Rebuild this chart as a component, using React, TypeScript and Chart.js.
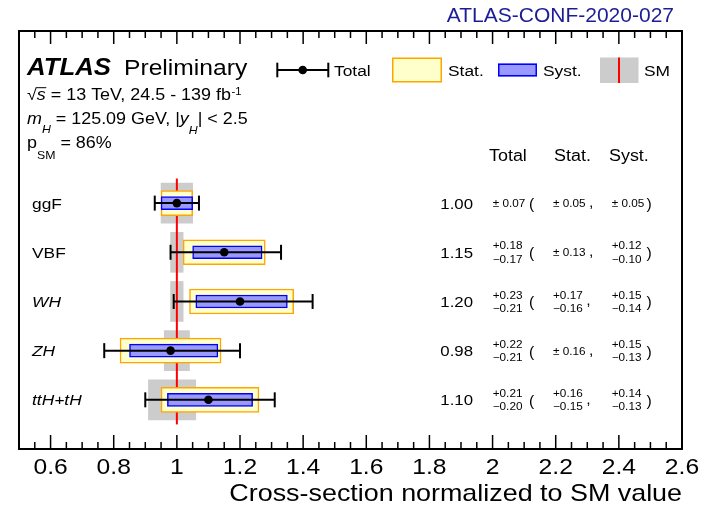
import React, { useEffect, useRef } from "react";
import { Chart, registerables } from "chart.js";

Chart.register(...registerables);

// ---------------- data ----------------
const CATEGORIES = ["ggF", "VBF", "WH", "ZH", "ttH+tH"];
const ITALIC_LABELS = ["WH", "ZH", "ttH+tH"];
const ROW_POS = [5, 4, 3, 2, 1];
const MU = [1.0, 1.15, 1.2, 0.98, 1.1];
const TOT_UP = [0.07, 0.18, 0.23, 0.22, 0.21];
const TOT_DN = [0.07, 0.17, 0.21, 0.21, 0.2];
const STAT_UP = [0.05, 0.13, 0.17, 0.16, 0.16];
const STAT_DN = [0.05, 0.13, 0.16, 0.16, 0.15];
const SYST_UP = [0.05, 0.12, 0.15, 0.15, 0.14];
const SYST_DN = [0.05, 0.1, 0.14, 0.13, 0.13];
const SM_UP = [0.05, 0.02, 0.02, 0.04, 0.06];
const SM_DN = [0.05, 0.02, 0.02, 0.04, 0.09];
const SM_VALUE = 1;
const X_MIN = 0.5;
const X_MAX = 2.6;
const TICK_LABELS = [0.6, 0.8, 1, 1.2, 1.4, 1.6, 1.8, 2, 2.2, 2.4, 2.6];
const MINOR_STEP = 0.05;

// ---------------- styling helpers ----------------
const FAMILY = '"Liberation Sans", Arial, Helvetica, sans-serif';
const SX = 1.12;
const f = (size: number, style = "") => `${style} ${size}px ${FAMILY}`.trim();

function txt(ctx: CanvasRenderingContext2D, s: string, x: number, y: number, font: string, align: CanvasTextAlign = "left", sx = SX, color = "#000") {
  ctx.save();
  ctx.font = font;
  ctx.fillStyle = color;
  ctx.textAlign = align;
  ctx.textBaseline = "alphabetic";
  ctx.translate(x, y);
  ctx.scale(sx, 1);
  ctx.fillText(s, 0, 0);
  ctx.restore();
}
function tw(ctx: CanvasRenderingContext2D, s: string, font: string, sx = SX) {
  ctx.save();
  ctx.font = font;
  const m = ctx.measureText(s).width * sx;
  ctx.restore();
  return m;
}
function runs(ctx: CanvasRenderingContext2D, x: number, y: number, parts: [string, string, number][]) {
  let cx = x;
  for (const [t, font, dy] of parts) {
    txt(ctx, t, cx, y + dy, font);
    cx += tw(ctx, t, font);
  }
  return cx;
}
function line(ctx: CanvasRenderingContext2D, x1: number, y1: number, x2: number, y2: number, color = "#000", lw = 2) {
  ctx.save();
  ctx.strokeStyle = color;
  ctx.lineWidth = lw;
  ctx.beginPath();
  ctx.moveTo(x1, y1);
  ctx.lineTo(x2, y2);
  ctx.stroke();
  ctx.restore();
}
function fmtUnc(up: number, dn: number) {
  return up === dn ? null : ["+" + up.toFixed(2), "\u2212" + dn.toFixed(2)];
}

const decorPlugin = {
  id: "decor",
  beforeDatasetDraw(chart: any, args: any) {
    const ds = chart.data.datasets[args.index];
    if (ds.label !== "Total") return;
    const ctx = chart.ctx as CanvasRenderingContext2D;
    const xs = chart.scales.x;
    const ys = chart.scales.y;
    MU.forEach((m, i) => {
      const y = ys.getPixelForValue(ROW_POS[i]);
      const x1 = xs.getPixelForValue(m - TOT_DN[i]);
      const x2 = xs.getPixelForValue(m + TOT_UP[i]);
      line(ctx, x1, y, x2, y);
      line(ctx, x1, y - 7.5, x1, y + 7.5);
      line(ctx, x2, y - 7.5, x2, y + 7.5);
    });
  },
  afterDraw(chart: any) {
    const ctx = chart.ctx as CanvasRenderingContext2D;
    const { left, right, top, bottom } = chart.chartArea;
    const xs = chart.scales.x;
    const ys = chart.scales.y;

    // ticks
    const nMinor = Math.round((X_MAX - X_MIN) / MINOR_STEP);
    for (let k = 1; k < nMinor; k++) {
      const v = X_MIN + k * MINOR_STEP;
      const major = TICK_LABELS.some((t) => Math.abs(t - v) < 1e-6);
      const px = xs.getPixelForValue(v);
      line(ctx, px, bottom, px, bottom - (major ? 14 : 7), "#000", 1.5);
      line(ctx, px, top, px, top + (major ? 13 : 7), "#000", 1.5);
    }
    // frame
    ctx.save();
    ctx.strokeStyle = "#000";
    ctx.lineWidth = 2;
    ctx.strokeRect(left, top, right - left, bottom - top);
    ctx.restore();

    // tick labels
    TICK_LABELS.forEach((v) => {
      txt(ctx, String(v), xs.getPixelForValue(v), 474, f(22), "center");
    });
    // axis title
    txt(ctx, "Cross-section normalized to SM value", right, 501, f(24), "right");

    // conference label
    txt(ctx, "ATLAS-CONF-2020-027", 674, 22, f(21), "right", 1, "#1c1c96");

    // ATLAS header
    txt(ctx, "ATLAS", 27, 75, f(23, "italic bold"));
    txt(ctx, "Preliminary", 124, 75, f(22));

    // sqrt(s) line
    const f16 = f(16);
    const f16i = f(16, "italic");
    const f11 = f(11);
    const f11i = f(11, "italic");
    let x = 27;
    const b2 = 100;
    txt(ctx, "\u221A", x, b2, f16);
    x += tw(ctx, "\u221A", f16);
    const sStart = x;
    txt(ctx, "s", x, b2, f16i);
    x += tw(ctx, "s", f16i);
    line(ctx, sStart - 0.5, b2 - 12.3, x + 0.5, b2 - 12.3, "#000", 1);
    x = runs(ctx, x, b2, [[" = 13 TeV, 24.5 - 139 fb", f16, 0]]);
    txt(ctx, "-1", x + 0.5, b2 - 5, f(10));

    // mH line
    runs(ctx, 27, 124, [
      ["m", f16i, 0],
      ["H", f11i, 9],
      [" = 125.09 GeV, |", f16, 0],
      ["y", f16i, 0],
      ["H", f11i, 10],
      ["| < 2.5", f16, 0],
    ]);
    // pSM line
    runs(ctx, 27, 148, [
      ["p", f16, 0],
      ["SM", f11, 11],
      [" = 86%", f16, 0],
    ]);

    // legend
    const ly = 70;
    line(ctx, 277.3, ly, 328.3, ly);
    line(ctx, 277.3, ly - 7.3, 277.3, ly + 7.3);
    line(ctx, 328.3, ly - 7.3, 328.3, ly + 7.3);
    ctx.save();
    ctx.fillStyle = "#000";
    ctx.beginPath();
    ctx.arc(302.7, ly, 4.3, 0, Math.PI * 2);
    ctx.fill();
    ctx.restore();
    txt(ctx, "Total", 334, ly + 5.5, f(15.5));

    ctx.save();
    ctx.fillStyle = "#ffffcc";
    ctx.fillRect(392, 57.5, 50, 25);
    ctx.strokeStyle = "#ffa500";
    ctx.lineWidth = 1.5;
    ctx.strokeRect(392.75, 58.25, 48.5, 23.5);
    ctx.fillStyle = "#9999ff";
    ctx.fillRect(498, 63.5, 39, 13);
    ctx.strokeStyle = "#0000ff";
    ctx.strokeRect(498.75, 64.25, 37.5, 11.5);
    ctx.fillStyle = "#cccccc";
    ctx.fillRect(600, 57.5, 38.5, 25.5);
    ctx.restore();
    line(ctx, 619, 57.5, 619, 83, "#ff0000", 2);
    txt(ctx, "Stat.", 448, ly + 5.5, f(15.5));
    txt(ctx, "Syst.", 543, ly + 5.5, f(15.5));
    txt(ctx, "SM", 644, ly + 5.5, f(15.5));

    // column headers
    txt(ctx, "Total", 489, 161, f(16));
    txt(ctx, "Stat.", 554, 161, f(16));
    txt(ctx, "Syst.", 609, 161, f(16));

    // rows
    const fSmall = f(10.5);
    CATEGORIES.forEach((c, i) => {
      const y = ys.getPixelForValue(ROW_POS[i]);
      const italic = ITALIC_LABELS.includes(c);
      txt(ctx, c, 32, y + 5.5, f(15.5, italic ? "italic" : ""));
      txt(ctx, MU[i].toFixed(2), 473, y + 5.5, f(15), "right");

      const cols: [number, number, number][] = [
        [492.7, TOT_UP[i], TOT_DN[i]],
        [553, STAT_UP[i], STAT_DN[i]],
        [611.7, SYST_UP[i], SYST_DN[i]],
      ];
      const ends: number[] = [];
      cols.forEach(([cx, up, dn]) => {
        const a = fmtUnc(up, dn);
        if (!a) {
          const s = "\u00B1 " + up.toFixed(2);
          txt(ctx, s, cx, y + 4, fSmall);
          ends.push(cx + tw(ctx, s, fSmall));
        } else {
          txt(ctx, a[0], cx, y - 2.9, fSmall);
          txt(ctx, a[1], cx, y + 10.4, fSmall);
          ends.push(cx + Math.max(tw(ctx, a[0], fSmall), tw(ctx, a[1], fSmall)));
        }
      });
      txt(ctx, "(", 529, y + 6, f(14));
      txt(ctx, ",", ends[1] + 3.5, y + 4, f(14));
      txt(ctx, ")", 646.5, y + 6, f(14));
    });
  },
};

export default function App() {
  const ref = useRef<HTMLCanvasElement>(null);
  useEffect(() => {
    if (!ref.current) return;
    const smData = MU.map((_, i) => ({ x: [SM_VALUE - SM_DN[i], SM_VALUE + SM_UP[i]], y: ROW_POS[i] }));
    const statData = MU.map((m, i) => ({ x: [m - STAT_DN[i], m + STAT_UP[i]], y: ROW_POS[i] }));
    const systData = MU.map((m, i) => ({ x: [m - SYST_DN[i], m + SYST_UP[i]], y: ROW_POS[i] }));
    const ptData = MU.map((m, i) => ({ x: m, y: ROW_POS[i] }));
    const smLine = [
      { x: SM_VALUE, y: Math.min(...ROW_POS) - 0.5 },
      { x: SM_VALUE, y: Math.max(...ROW_POS) + 0.5 },
    ];
    const chart = new Chart(ref.current, {
      type: "bar",
      data: {
        datasets: [
          {
            type: "bar",
            label: "SM",
            data: smData as any,
            backgroundColor: "#cccccc",
            borderWidth: 0,
            barThickness: 40,
            grouped: false,
            indexAxis: "y",
            order: 6,
          } as any,
          {
            type: "line",
            label: "SM line",
            data: smLine as any,
            borderColor: "#ff0000",
            borderWidth: 2,
            pointRadius: 0,
            fill: false,
            order: 5,
          } as any,
          {
            type: "bar",
            label: "Stat.",
            data: statData as any,
            backgroundColor: "#ffffcc",
            borderColor: "#ffa500",
            borderWidth: 1.5,
            borderSkipped: false,
            barThickness: 25,
            grouped: false,
            indexAxis: "y",
            order: 4,
          } as any,
          {
            type: "bar",
            label: "Syst.",
            data: systData as any,
            backgroundColor: "#9999ff",
            borderColor: "#0000ff",
            borderWidth: 1.5,
            borderSkipped: false,
            barThickness: 13,
            grouped: false,
            indexAxis: "y",
            order: 3,
          } as any,
          {
            type: "scatter",
            label: "Total",
            data: ptData as any,
            backgroundColor: "#000000",
            borderWidth: 0,
            pointRadius: 4.3,
            order: 1,
          } as any,
        ],
      },
      options: {
        indexAxis: "y",
        responsive: false,
        animation: false,
        events: [],
        layout: { padding: { left: 19, top: 31, right: 29, bottom: 65 } },
        scales: {
          x: { type: "linear", min: X_MIN, max: X_MAX, display: false, offset: false },
          y: { type: "linear", min: 0, max: 8.5, display: false, offset: false, grace: 0 },
        },
        plugins: { legend: { display: false }, tooltip: { enabled: false } },
      } as any,
      plugins: [decorPlugin as any],
    });
    return () => chart.destroy();
  }, []);
  return (
    <div style={{ position: "absolute", left: 0, top: 0, width: 711, height: 514, background: "#fff" }}>
      <canvas ref={ref} width={711} height={514} style={{ width: 711, height: 514, display: "block" }} />
    </div>
  );
}
